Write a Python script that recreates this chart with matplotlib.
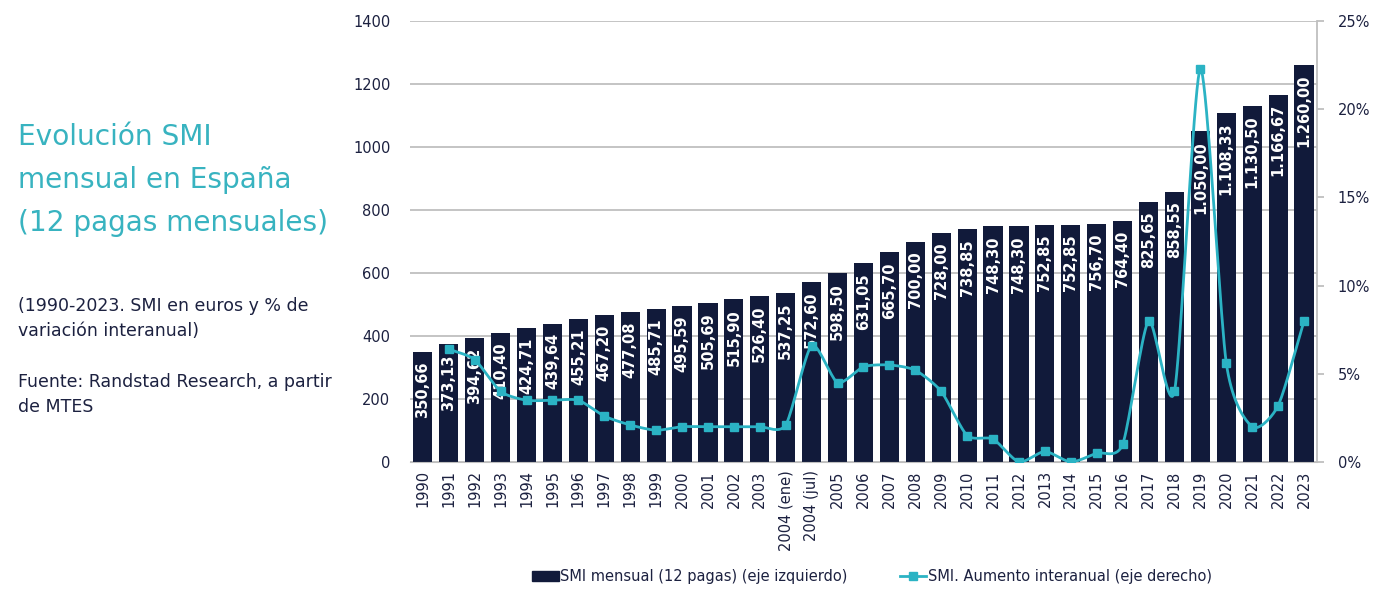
import numpy as np
import matplotlib.pyplot as plt
from matplotlib.lines import Line2D
from matplotlib.patches import Patch

# Datos
anios = ['1990', '1991', '1992', '1993', '1994', '1995', '1996', '1997', '1998', '1999',
         '2000', '2001', '2002', '2003', '2004 (ene)', '2004 (jul)', '2005', '2006', '2007',
         '2008', '2009', '2010', '2011', '2012', '2013', '2014', '2015', '2016', '2017',
         '2018', '2019', '2020', '2021', '2022', '2023']
smi = [350.66, 373.13, 394.62, 410.40, 424.71, 439.64, 455.21, 467.20, 477.08, 485.71,
       495.59, 505.69, 515.90, 526.40, 537.25, 572.60, 598.50, 631.05, 665.70, 700.00,
       728.00, 738.85, 748.30, 748.30, 752.85, 752.85, 756.70, 764.40, 825.65, 858.55,
       1050.00, 1108.33, 1130.50, 1166.67, 1260.00]
aumento = [None, 6.4, 5.8, 4.0, 3.5, 3.5, 3.5, 2.6, 2.1, 1.8,
           2.0, 2.0, 2.0, 2.0, 2.1, 6.6, 4.5, 5.4, 5.5, 5.2,
           4.0, 1.5, 1.3, 0.0, 0.6, 0.0, 0.5, 1.0, 8.0, 4.0,
           22.3, 5.6, 2.0, 3.2, 8.0]

NAVY = '#111a3a'
TEAL = '#2bb3c4'
TEXTO = '#1c2140'
GRIS = '#bfbfbf'


def formato_es(v):
    s = f"{v:,.2f}"
    return s.replace(',', 'X').replace('.', ',').replace('X', '.')


def suavizar(x, y, k=0.7, n=20):
    # spline cardinal (similar a la línea suavizada de Excel) que pasa por los puntos
    x = np.asarray(x, float)
    y = np.asarray(y, float)
    px = np.concatenate(([2 * x[0] - x[1]], x, [2 * x[-1] - x[-2]]))
    py = np.concatenate(([2 * y[0] - y[1]], y, [2 * y[-1] - y[-2]]))
    xs, ys = [], []
    t = np.linspace(0, 1, n)
    h00 = 2 * t ** 3 - 3 * t ** 2 + 1
    h10 = t ** 3 - 2 * t ** 2 + t
    h01 = -2 * t ** 3 + 3 * t ** 2
    h11 = t ** 3 - t ** 2
    for i in range(1, len(px) - 2):
        for p, out in ((px, xs), (py, ys)):
            m1 = k * 0.5 * (p[i + 1] - p[i - 1])
            m2 = k * 0.5 * (p[i + 2] - p[i])
            out.extend(h00 * p[i] + h10 * m1 + h01 * p[i + 1] + h11 * m2)
    return np.array(xs), np.array(ys)


plt.rcParams['font.family'] = ['DejaVu Sans']

fig = plt.figure(figsize=(13.84, 6.04), dpi=100)
ax = fig.add_axes([0.2962, 0.2351, 0.9516 - 0.2962, 0.9652 - 0.2351])
ax2 = ax.twinx()

x = np.arange(len(anios))
ax.bar(x, smi, width=0.74, color=NAVY, zorder=2)
for xi, v in zip(x, smi):
    ax.annotate(formato_es(v), (xi, v), xytext=(0, -7), textcoords='offset points',
                rotation=90, ha='center', va='top', color='white',
                fontsize=10.5, fontweight='bold', zorder=3)

ax.set_xlim(-0.5, len(anios) - 0.5)
ax.set_ylim(0, 1400)
ax.set_yticks(range(0, 1401, 200))
ax.yaxis.grid(True, color=GRIS, linewidth=1.3, zorder=0)
ax.set_axisbelow(True)
ax.tick_params(axis='y', length=0, pad=14, labelsize=10.5, labelcolor=TEXTO)
ax.set_xticks(x)
ax.set_xticklabels(anios, rotation=90, fontsize=10.5, color=TEXTO)
ax.tick_params(axis='x', length=0, pad=6)

for s in ['top', 'left']:
    ax.spines[s].set_visible(False)
    ax2.spines[s].set_visible(False)
ax.spines['right'].set_visible(False)
ax.spines['bottom'].set_color(GRIS)
ax2.spines['bottom'].set_visible(False)
ax2.spines['right'].set_color(GRIS)
ax2.spines['right'].set_linewidth(1.3)

# línea de aumento interanual (eje derecho)
xl = [xi for xi, a in zip(x, aumento) if a is not None]
yl = [a for a in aumento if a is not None]
cx, cy = suavizar(xl, yl)
ax2.plot(cx, cy, color=TEAL, linewidth=2, zorder=4)
ax2.plot(xl, yl, linestyle='none', marker='s', markersize=6, color=TEAL, zorder=5)
ax2.set_ylim(0, 25)
ax2.set_yticks(range(0, 26, 5))
ax2.set_yticklabels([f"{v}%" for v in range(0, 26, 5)])
ax2.tick_params(axis='y', length=5, width=1.3, color=GRIS, pad=10,
                labelsize=10.5, labelcolor=TEXTO)

# leyenda
handles = [Patch(color=NAVY),
           Line2D([0], [0], color=TEAL, linewidth=2, marker='s', markersize=6)]
fig.legend(handles, ['SMI mensual (12 pagas) (eje izquierdo)',
                     'SMI. Aumento interanual (eje derecho)'],
           loc='center', bbox_to_anchor=(0.630, 0.046), ncol=2, frameon=False,
           fontsize=10.5, labelcolor=TEXTO, columnspacing=3.6,
           handlelength=1.8, handletextpad=0.1)

# texto lateral
fig.text(0.013, 0.797, 'Evolución SMI\nmensual en España\n(12 pagas mensuales)',
         fontsize=20.2, color='#38b3c0', va='top', ha='left', linespacing=1.7)
fig.text(0.013, 0.508, '(1990-2023. SMI en euros y % de\nvariación interanual)',
         fontsize=12.5, color=TEXTO, va='top', ha='left', linespacing=1.5)
fig.text(0.013, 0.382, 'Fuente: Randstad Research, a partir\nde MTES',
         fontsize=12.5, color=TEXTO, va='top', ha='left', linespacing=1.5)

fig.savefig('out.png', dpi=100)
